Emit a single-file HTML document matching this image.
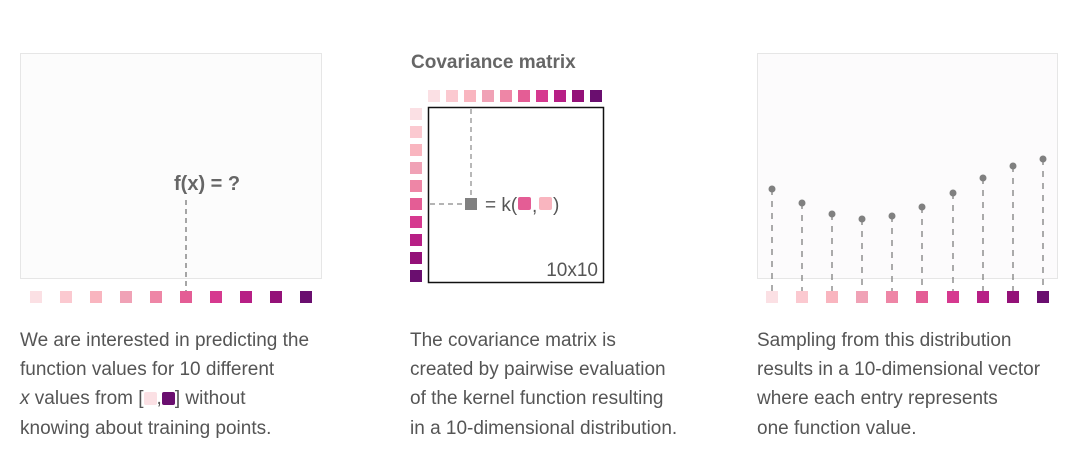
<!DOCTYPE html>
<html><head><meta charset="utf-8"><style>
body{margin:0;background:#fff;width:1080px;height:453px;overflow:hidden;font-family:"Liberation Sans",sans-serif;}
.p{position:absolute;font-size:19px;color:#555;line-height:29.2px;}
</style></head><body>
<svg width="1080" height="453" style="position:absolute;left:0;top:0" font-family="Liberation Sans, sans-serif">
<rect x="20.5" y="53.5" width="301" height="225" fill="#fcfcfc" stroke="#e6e6e6"/>
<line x1="186" y1="200" x2="186" y2="292" stroke="#888" stroke-dasharray="5,4" stroke-width="1.5"/>
<text x="174" y="190" font-size="20" font-weight="bold" fill="#666">f(x) = ?</text>
<g>
<rect x="30" y="291" width="12" height="12" fill="#fbe0e4"/>
<rect x="60" y="291" width="12" height="12" fill="#fbc9d0"/>
<rect x="90" y="291" width="12" height="12" fill="#f9b5bf"/>
<rect x="120" y="291" width="12" height="12" fill="#f0a2b6"/>
<rect x="150" y="291" width="12" height="12" fill="#ee86a6"/>
<rect x="180" y="291" width="12" height="12" fill="#e45d95"/>
<rect x="210" y="291" width="12" height="12" fill="#d6398f"/>
<rect x="240" y="291" width="12" height="12" fill="#b71f85"/>
<rect x="270" y="291" width="12" height="12" fill="#941178"/>
<rect x="300" y="291" width="12" height="12" fill="#6a0e6f"/>
</g>
<text x="411" y="68" font-size="19" font-weight="bold" fill="#666">Covariance matrix</text>
<g>
<rect x="428" y="90" width="12" height="12" fill="#fbe0e4"/>
<rect x="446" y="90" width="12" height="12" fill="#fbc9d0"/>
<rect x="464" y="90" width="12" height="12" fill="#f9b5bf"/>
<rect x="482" y="90" width="12" height="12" fill="#f0a2b6"/>
<rect x="500" y="90" width="12" height="12" fill="#ee86a6"/>
<rect x="518" y="90" width="12" height="12" fill="#e45d95"/>
<rect x="536" y="90" width="12" height="12" fill="#d6398f"/>
<rect x="554" y="90" width="12" height="12" fill="#b71f85"/>
<rect x="572" y="90" width="12" height="12" fill="#941178"/>
<rect x="590" y="90" width="12" height="12" fill="#6a0e6f"/>
</g>
<g>
<rect x="410" y="108" width="12" height="12" fill="#fbe0e4"/>
<rect x="410" y="126" width="12" height="12" fill="#fbc9d0"/>
<rect x="410" y="144" width="12" height="12" fill="#f9b5bf"/>
<rect x="410" y="162" width="12" height="12" fill="#f0a2b6"/>
<rect x="410" y="180" width="12" height="12" fill="#ee86a6"/>
<rect x="410" y="198" width="12" height="12" fill="#e45d95"/>
<rect x="410" y="216" width="12" height="12" fill="#d6398f"/>
<rect x="410" y="234" width="12" height="12" fill="#b71f85"/>
<rect x="410" y="252" width="12" height="12" fill="#941178"/>
<rect x="410" y="270" width="12" height="12" fill="#6a0e6f"/>
</g>
<rect x="428.5" y="107.5" width="175" height="175" fill="#fff" stroke="#111" stroke-width="1.5"/>
<line x1="471" y1="109" x2="471" y2="198" stroke="#888" stroke-dasharray="5,4" stroke-width="1.2"/>
<line x1="430" y1="204" x2="462" y2="204" stroke="#888" stroke-dasharray="5,4" stroke-width="1.2"/>
<rect x="465" y="198" width="12" height="12" fill="#808080"/>
<text x="485" y="211" font-size="19" fill="#555">= k(</text>
<rect x="518" y="197" width="13" height="13" rx="2" fill="#e45d95"/>
<text x="532" y="212" font-size="19" fill="#555">,</text>
<rect x="539" y="197" width="13" height="13" rx="2" fill="#f9b5bf"/>
<text x="553" y="211" font-size="19" fill="#555">)</text>
<text x="598" y="276" font-size="19" fill="#555" text-anchor="end">10x10</text>
<rect x="757.5" y="53.5" width="300" height="225" fill="#fcfbfc" stroke="#e6e6e6"/>
<g stroke="#888" stroke-dasharray="6,6" stroke-width="1.4">
<line x1="772" y1="189" x2="772" y2="292"/>
<line x1="802" y1="203" x2="802" y2="292"/>
<line x1="832" y1="214" x2="832" y2="292"/>
<line x1="862" y1="219" x2="862" y2="292"/>
<line x1="892" y1="216" x2="892" y2="292"/>
<line x1="922" y1="207" x2="922" y2="292"/>
<line x1="953" y1="193" x2="953" y2="292"/>
<line x1="983" y1="178" x2="983" y2="292"/>
<line x1="1013" y1="166" x2="1013" y2="292"/>
<line x1="1043" y1="159" x2="1043" y2="292"/>
</g>
<g fill="#808080">
<circle cx="772" cy="189" r="3.5"/><circle cx="802" cy="203" r="3.5"/><circle cx="832" cy="214" r="3.5"/><circle cx="862" cy="219" r="3.5"/><circle cx="892" cy="216" r="3.5"/><circle cx="922" cy="207" r="3.5"/><circle cx="953" cy="193" r="3.5"/><circle cx="983" cy="178" r="3.5"/><circle cx="1013" cy="166" r="3.5"/><circle cx="1043" cy="159" r="3.5"/>
</g>
<g>
<rect x="766" y="291" width="12" height="12" fill="#fbe0e4"/>
<rect x="796" y="291" width="12" height="12" fill="#fbc9d0"/>
<rect x="826" y="291" width="12" height="12" fill="#f9b5bf"/>
<rect x="856" y="291" width="12" height="12" fill="#f0a2b6"/>
<rect x="886" y="291" width="12" height="12" fill="#ee86a6"/>
<rect x="916" y="291" width="12" height="12" fill="#e45d95"/>
<rect x="947" y="291" width="12" height="12" fill="#d6398f"/>
<rect x="977" y="291" width="12" height="12" fill="#b71f85"/>
<rect x="1007" y="291" width="12" height="12" fill="#941178"/>
<rect x="1037" y="291" width="12" height="12" fill="#6a0e6f"/>
</g>
</svg>
<div class="p" style="left:20px;top:326px;">We are interested in predicting the<br>function values for 10 different<br><i>x</i> values from [<span style="display:inline-block;width:13px;height:13px;background:#fbe0e4;border-radius:2px;vertical-align:-1px"></span>,<span style="display:inline-block;width:13px;height:13px;background:#6a0e6f;border-radius:2px;vertical-align:-1px"></span>] without<br>knowing about training points.</div>
<div class="p" style="left:410px;top:326px;">The covariance matrix is<br>created by pairwise evaluation<br>of the kernel function resulting<br>in a 10-dimensional distribution.</div>
<div class="p" style="left:757px;top:326px;">Sampling from this distribution<br>results in a 10-dimensional vector<br>where each entry represents<br>one function value.</div>
</body></html>
